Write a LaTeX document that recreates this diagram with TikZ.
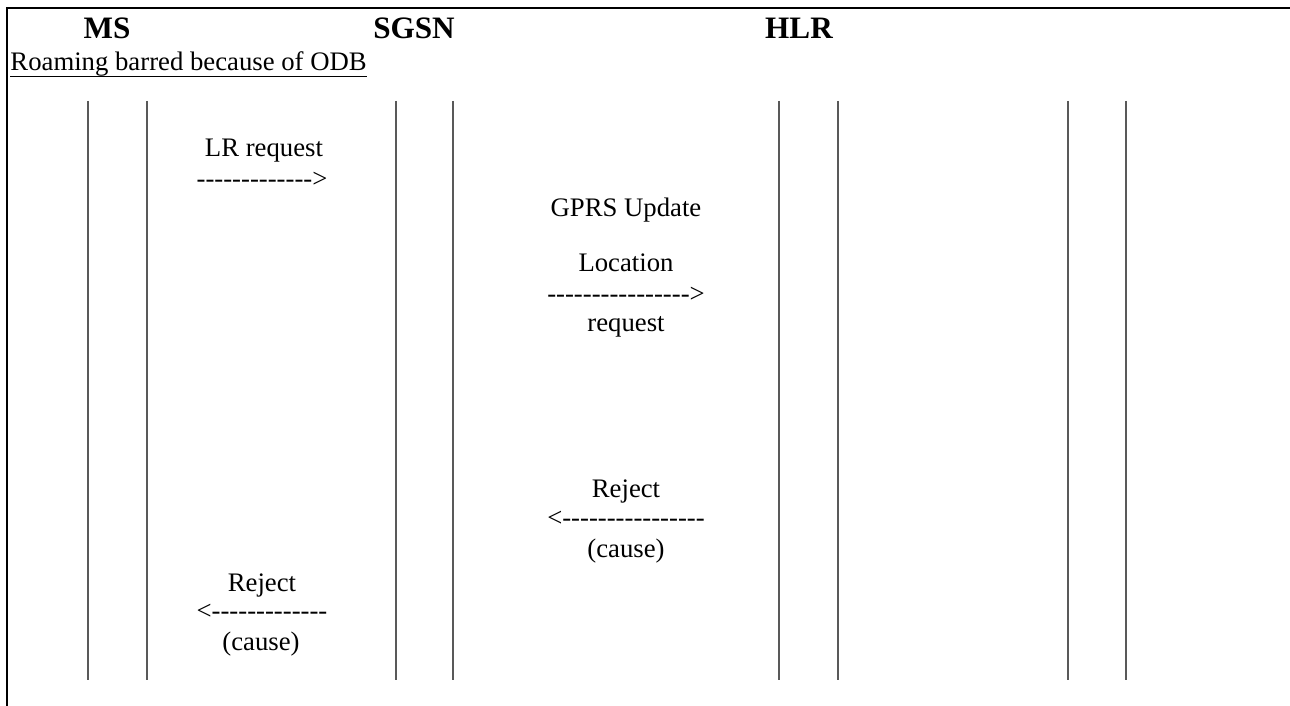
\documentclass[tikz,border=0pt]{standalone}
\usepackage{fontspec}
\setmainfont{Liberation Serif}
\tikzset{
    lifeline/.style={draw=black!65, line width=0.5pt},
    frameline/.style={line width=1pt},
    msg/.style={anchor=base, inner sep=0pt, font=\fontsize{12}{14}\selectfont},
    entity/.style={anchor=base, inner sep=0pt, font=\fontsize{14}{16}\selectfont\bfseries},
}
\newcommand{\dashrun}[1]{\foreach \k in {1,...,#1}{-\kern0pt}}
\begin{document}
\begin{tikzpicture}[x=0.449pt,y=-0.449pt]
        \useasboundingbox (0,0) rectangle (1290,706);
        %% Frame
        \draw[frameline] (7,706) -- (7,8) -- (1290,8);
        %% Entities
        \node[entity] (ms) at (107,39) {MS};
        \node[entity] (sgsn) at (414,39) {SGSN};
        \node[entity] (hlr) at (799,39) {HLR};
        \node[msg,anchor=base west] (odb) at (10,70.5) {Roaming barred because of ODB};
        \draw[line width=0.45pt] ([yshift=-2.8pt]odb.base west) -- ([yshift=-2.8pt]odb.base east);
        %% Lifelines
        \foreach \x in {88,147,396,453,779,838,1068,1126}
            \draw[lifeline] (\x,101) -- (\x,680);
        %% LR request
        \node[msg] (lrreq) at (264,157) {LR request};
        \node[msg] (lrarrow) at (262,188) {\dashrun{13}>};
        %% GPRS Update Location request
        \node[msg] (gprs) at (626,217) {GPRS Update};
        \node[msg] (loc) at (626,272) {Location};
        \node[msg] (gprsarrow) at (626,303) {\dashrun{16}>};
        \node[msg] (req) at (626,332) {request};
        %% Reject from HLR
        \node[msg] (rejhlr) at (626,497) {Reject};
        \node[msg] (rejhlrarrow) at (626,526) {<\dashrun{16}};
        \node[msg] (causehlr) at (626,557) {(cause)};
        %% Reject to MS
        \node[msg] (rejms) at (262,591) {Reject};
        \node[msg] (rejmsarrow) at (262,619) {<\dashrun{13}};
        \node[msg] (causems) at (261,650) {(cause)};
\end{tikzpicture}
\end{document}
